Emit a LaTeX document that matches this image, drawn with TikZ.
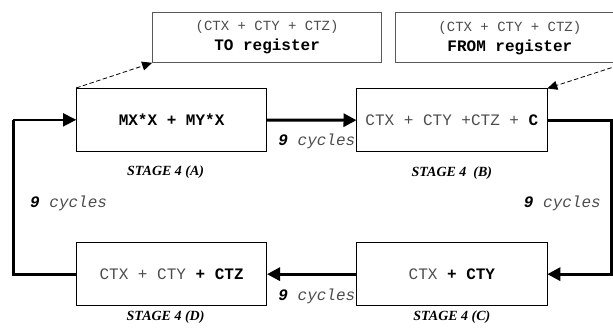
\documentclass[tikz,border=0pt]{standalone}
\usepackage{fontspec}
\setmainfont{Liberation Serif}
\setmonofont{Liberation Mono}
\usetikzlibrary{matrix,calc,positioning,arrows.meta}
\tikzset{>={Triangle[length=13pt,width=13pt]}}
\newcommand{\hib}[1]{\textcolor{black}{\textbf{#1}}}
\newcommand{\ncyc}{\hib{9} cycles}

\begin{document}
\begin{tikzpicture}[x=1pt,y=1pt,
    flow/.style={->,line width=3pt},
    pointer/.style={-{Triangle[length=10pt,width=9pt]},line width=0.8pt,dash pattern=on 4.5pt off 2.5pt},
    regbox/.style={draw=black!65,line width=1pt,minimum width=229pt,minimum height=50pt,inner sep=0,align=center,text=black!70,font=\fontsize{16}{20}\selectfont\ttfamily},
    cyc/.style={inner sep=1pt,text=black!70,font=\fontsize{16}{18}\selectfont\ttfamily\itshape},
    stage/.style={inner sep=0,font=\fontsize{14}{16}\selectfont\bfseries\itshape}]
        \clip (0,0) rectangle (613,334);
        \matrix (m) at (311.75,137) [matrix of nodes,row sep=90pt,column sep=89.5pt,nodes={draw,line width=0.8pt,minimum width=190pt,minimum height=63pt,inner sep=0,text=black!70,font=\fontsize{16}{18}\selectfont\ttfamily}] {
          \hib{MX*X + MY*X} &
          CTX + CTY +CTZ + \hib{C} \\
          CTX + CTY \hib{+ CTZ} &
          CTX \hib{+ CTY} \\
        };
        \node[regbox] (toreg) at ($(m-1-1)+(95.5,82.5)$) {{\fontsize{14}{20}\selectfont(CTX + CTY + CTZ)}\\\hib{TO register}};
        \node[regbox] (fromreg) at ($(m-1-2)+(58,82.5)$) {{\fontsize{14}{20}\selectfont(CTX + CTY + CTZ)}\\\hib{FROM register}};
        \draw[pointer] (m-1-1.north west) -- (toreg.south west);
        \draw[pointer] (fromreg.south east) -- (m-1-2.north east);
        \draw[flow] (m-1-1) -- (m-1-2);
        \draw[flow] (m-1-2.east) -- ++(64,0) |- (m-2-2.east);
        \draw[flow] (m-2-2) -- (m-2-1);
        \draw[line width=3pt] (m-2-1.west) -- ++(-63,0) coordinate (lc) -- (lc |- m-1-1.west);
        \draw[->,line width=1.5pt] (lc |- m-1-1.west) -- (m-1-1.west);
        \node[cyc,anchor=east] (cycab) at ($(m-1-2.west)+(0,-21.5)$) {\ncyc};
        \node[cyc,anchor=east] (cyccd) at ($(m-2-2.west)+(0,-22)$) {\ncyc};
        \node[cyc,anchor=east] (cycr) at (602,131) {\ncyc};
        \node[cyc,anchor=west] (cycl) at (29,131) {\ncyc};
        \node[stage,below=14pt of m-1-1,xshift=-6pt] (sa) {STAGE 4 (A)};
        \node[stage,below=14pt of m-1-2] (sb) {STAGE 4 \ (B)};
        \node[stage,below=5pt of m-2-2] (sc) {STAGE 4 (C)};
        \node[stage,below=5pt of m-2-1,xshift=-6pt] (sd) {STAGE 4 (D)};
    \end{tikzpicture}
\end{document}
